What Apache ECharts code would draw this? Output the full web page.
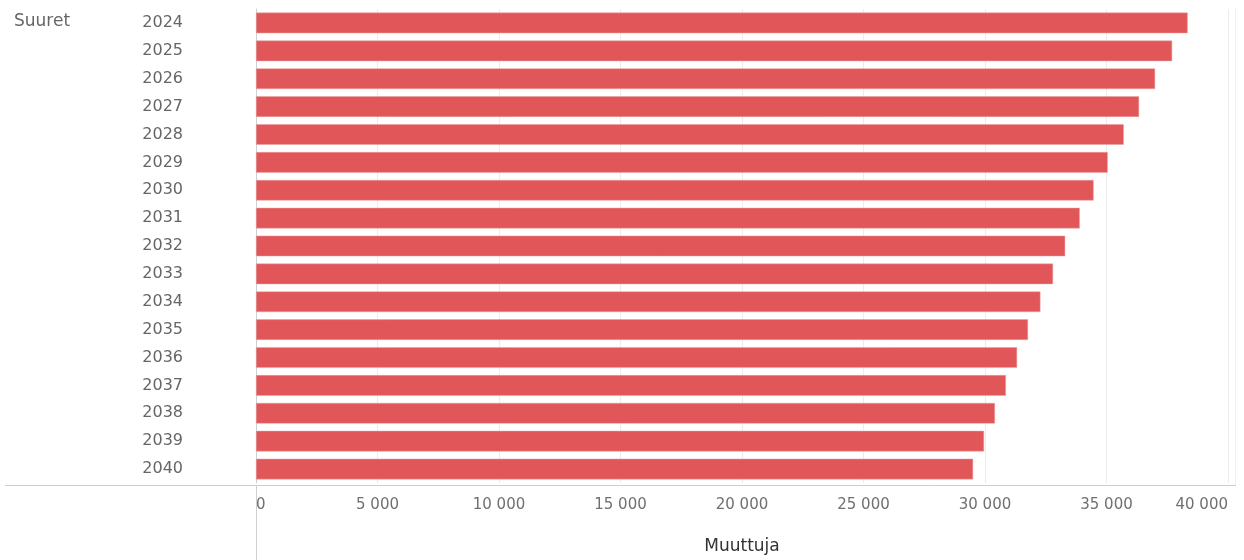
<!DOCTYPE html>
<html>
<head>
<meta charset="utf-8">
<script src="https://cdn.jsdelivr.net/npm/echarts@6/dist/echarts.min.js"></script>
<style>
html,body{margin:0;padding:0;background:#fff;}
#chart{width:1244px;height:560px;}
</style>
</head>
<body>
<div id="chart"></div>
<script>
const years = ['2024','2025','2026','2027','2028','2029','2030','2031','2032','2033','2034','2035','2036','2037','2038','2039','2040'];
const values = [38340,37700,37000,36340,35710,35050,34470,33900,33300,32800,32280,31770,31320,30860,30410,29960,29510];
const xTicks = [0,5000,10000,15000,20000,25000,30000,35000,40000];
const rowHeader = 'Suuret';
const xTitle = 'Muuttuja';

const FONT = 'DejaVu Sans';
const chart = echarts.init(document.getElementById('chart'));
function fmt(v){ return String(v).replace(/\B(?=(\d{3})+(?!\d))/g, ' '); }

chart.setOption({
  animation: false,
  grid: {left: 256, right: 16, top: 9, bottom: 75, containLabel: false},
  xAxis: {
    type: 'value',
    min: xTicks[0],
    max: xTicks[xTicks.length-1],
    interval: 5000,
    axisLine: {show: false},
    axisTick: {show: false},
    splitLine: {show: true, lineStyle: {color: '#ececec', width: 1}},
    axisLabel: {
      color: '#707070', fontFamily: FONT, fontSize: 15, margin: 15,
      alignMinLabel: 'left', alignMaxLabel: 'right',
      formatter: fmt
    },
    name: xTitle,
    nameLocation: 'middle',
    nameGap: 55,
    nameTextStyle: {color: '#333', fontFamily: FONT, fontSize: 17}
  },
  yAxis: {
    type: 'category',
    data: years,
    inverse: true,
    axisLine: {show: true, lineStyle: {color: '#d0d0d0', width: 1}},
    axisTick: {show: false},
    axisLabel: {color: '#666', fontFamily: FONT, fontSize: 16, margin: 73}
  },
  series: [{
    type: 'bar',
    data: values,
    barCategoryGap: '26%',
    itemStyle: {color: '#e15759', borderColor: '#e8a0a1', borderWidth: 0.5}
  }],
  graphic: [
    {type: 'text', left: 14, top: 13, style: {text: rowHeader, fill: '#666', font: '17px "DejaVu Sans"'}},
    {type: 'line', shape: {x1: 5, y1: 485.5, x2: 1236, y2: 485.5}, style: {stroke: '#cfcfcf', lineWidth: 1}},
    {type: 'line', shape: {x1: 256.5, y1: 485, x2: 256.5, y2: 560}, style: {stroke: '#d0d0d0', lineWidth: 1}},
    {type: 'line', shape: {x1: 1235.5, y1: 8, x2: 1235.5, y2: 485}, style: {stroke: '#f0f0f0', lineWidth: 1}}
  ]
});
</script>
</body>
</html>
